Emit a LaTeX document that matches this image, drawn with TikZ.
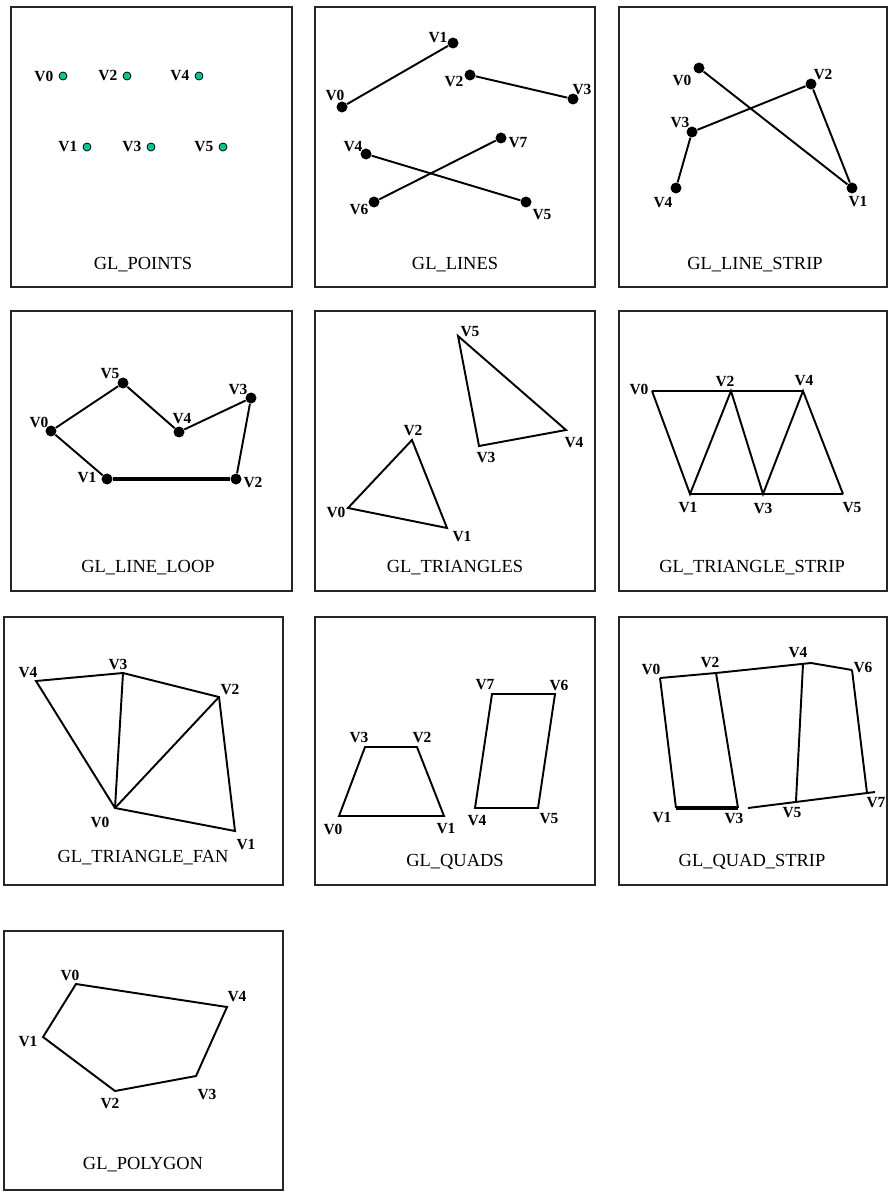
\documentclass[tikz,border=0pt]{standalone}
\usepackage{fontspec}
\setmainfont{Liberation Serif}
\usepackage{xcolor}
\usetikzlibrary{positioning}
\definecolor{ptgreen}{RGB}{0,200,150}

\begin{document}
\begin{tikzpicture}[
  x=0.02cm, y=-0.02cm,
  every node/.style={inner sep=0pt},
  panel/.style={draw=black!85, line width=0.6pt},
  title/.style={font=\fontsize{10.5}{12}\selectfont},
  vlabel/.style={font=\fontsize{8.8}{10}\selectfont\bfseries},
  ptdot/.style={circle, draw=black, line width=0.45pt, fill=ptgreen,
                minimum size=0.16cm},
  dot/.style={circle, fill=black, minimum size=0.22cm},
  edge/.style={line width=1.1pt},
  boldedge/.style={line width=1.8pt},
]
\useasboundingbox (0,0) rectangle (888,1192);

%% ── Panel frames and titles ──────────────────────────────────────────────
\foreach \nm/\xa/\ya/\xb/\yb/\tx/\ty/\txt in {
  fa/11/7/292/287/143/265/{GL\_POINTS},
  fb/315/7/595/287/455/265/{GL\_LINES},
  fc/619/7/887/287/755/265/{GL\_LINE\_STRIP},
  fd/11/311/292/591/148/568/{GL\_LINE\_LOOP},
  fe/315/311/595/591/455/568/{GL\_TRIANGLES},
  ff/619/311/887/591/752/568/{GL\_TRIANGLE\_STRIP},
  fg/4/617/283/885/143/858/{GL\_TRIANGLE\_FAN},
  fh/315/617/595/885/455/862/{GL\_QUADS},
  fi/619/617/887/885/752/862/{GL\_QUAD\_STRIP},
  fj/4/931/283/1190/143/1165/{GL\_POLYGON}} {
  \draw[panel] (\xa,\ya) rectangle (\xb,\yb);
  \node[title] (\nm) at (\tx,\ty) {\txt};
}

%% ── GL_POINTS ────────────────────────────────────────────────────────────
\foreach \n/\x/\y in {0/63/76, 2/127/76, 4/199/76, 1/87/147, 3/151/147, 5/223/147} {
  \node[ptdot] (pa\n) at (\x,\y) {};
  \node[vlabel, left=2.8pt of pa\n] (la\n) {V\n};
}

%% ── GL_LINES ─────────────────────────────────────────────────────────────
\foreach \n/\x/\y in {0/342/107, 1/453/43, 2/470/75, 3/573/99,
                      4/366/154, 5/526/202, 6/374/202, 7/501/138}
  \node[dot] (pb\n) at (\x,\y) {};
\foreach \n/\x/\y in {0/335/95, 1/438/38, 2/454/82, 3/582/90,
                      4/353/147, 5/542/215, 6/359/210, 7/518/143}
  \node[vlabel] (lb\n) at (\x,\y) {V\n};
\draw[edge] (pb0) -- (pb1);
\draw[edge] (pb2) -- (pb3);
\draw[edge] (pb4) -- (pb5);
\draw[edge] (pb6) -- (pb7);

%% ── GL_LINE_STRIP ────────────────────────────────────────────────────────
\foreach \n/\x/\y in {0/699/68, 1/852/188, 2/811/84, 3/692/132, 4/676/188}
  \node[dot] (pc\n) at (\x,\y) {};
\foreach \n/\x/\y in {0/682/80, 1/858/202, 2/823/75, 3/680/123, 4/663/203}
  \node[vlabel] (lc\n) at (\x,\y) {V\n};
\draw[edge] (pc0) -- (pc1) -- (pc2) -- (pc3) -- (pc4);

%% ── GL_LINE_LOOP ─────────────────────────────────────────────────────────
\foreach \n/\x/\y in {0/51/431, 1/107/479, 2/236/479, 3/251/398, 4/179/432, 5/123/383}
  \node[dot] (pd\n) at (\x,\y) {};
\foreach \n/\x/\y in {0/39/422, 1/87/478, 2/253/482, 3/238/389, 4/182/419, 5/110/374}
  \node[vlabel] (ld\n) at (\x,\y) {V\n};
\draw[edge] (pd0) -- (pd1);
\draw[boldedge] (pd1) -- (pd2);
\draw[edge] (pd2) -- (pd3) -- (pd4) -- (pd5) -- (pd0);

%% ── GL_TRIANGLES ─────────────────────────────────────────────────────────
\foreach \n/\x/\y in {0/348/508, 1/447/528, 2/412/440, 3/479/446, 4/566/430, 5/458/336}
  \coordinate (pe\n) at (\x,\y);
\foreach \n/\x/\y in {0/336/512, 1/462/537, 2/413/430, 3/486/457, 4/574/443, 5/470/332}
  \node[vlabel] (le\n) at (\x,\y) {V\n};
\draw[edge] (pe0) -- (pe1) -- (pe2) -- cycle;
\draw[edge] (pe3) -- (pe4) -- (pe5) -- cycle;

%% ── GL_TRIANGLE_STRIP ────────────────────────────────────────────────────
\foreach \n/\x/\y in {0/652/391, 1/690/494, 2/731/391, 3/763/494, 4/803/391, 5/843/494}
  \coordinate (pf\n) at (\x,\y);
\foreach \n/\x/\y in {0/639/389, 1/688/508, 2/725/381, 3/763/508, 4/804/381, 5/852/508}
  \node[vlabel] (lf\n) at (\x,\y) {V\n};
\draw[edge] (pf0) -- (pf2) -- (pf4);
\draw[edge] (pf1) -- (pf3) -- (pf5);
\draw[edge] (pf0) -- (pf1) -- (pf2) -- (pf3) -- (pf4) -- (pf5);

%% ── GL_TRIANGLE_FAN ──────────────────────────────────────────────────────
\foreach \n/\x/\y in {0/115/808, 1/235/831, 2/219/697, 3/123/673, 4/36/681}
  \coordinate (pg\n) at (\x,\y);
\foreach \n/\x/\y in {0/100/822, 1/246/845, 2/230/689, 3/118/664, 4/28/673}
  \node[vlabel] (lg\n) at (\x,\y) {V\n};
\draw[edge] (pg0) -- (pg1) -- (pg2) -- (pg3) -- (pg4) -- cycle;
\draw[edge] (pg0) -- (pg2);
\draw[edge] (pg0) -- (pg3);

%% ── GL_QUADS ─────────────────────────────────────────────────────────────
\foreach \n/\x/\y in {0/339/816, 1/444/816, 2/417/747, 3/365/747,
                      4/475/808, 5/538/808, 6/555/694, 7/492/694}
  \coordinate (ph\n) at (\x,\y);
\foreach \n/\x/\y in {0/333/829, 1/446/829, 2/422/737, 3/359/737,
                      4/477/821, 5/549/819, 6/559/685, 7/485/685}
  \node[vlabel] (lh\n) at (\x,\y) {V\n};
\draw[edge] (ph0) -- (ph1) -- (ph2) -- (ph3) -- cycle;
\draw[edge] (ph4) -- (ph5) -- (ph6) -- (ph7) -- cycle;

%% ── GL_QUAD_STRIP ────────────────────────────────────────────────────────
\foreach \n/\x/\y in {0/660/678, 1/676/808, 2/716/673, 3/738/808,
                      4/803/664, 5/796/801, 6/852/670, 7/867/793}
  \coordinate (pi\n) at (\x,\y);
\coordinate (itop) at (811,663);
\coordinate (ibota) at (748,808);
\coordinate (ibotb) at (875,792);
\foreach \n/\x/\y in {0/651/669, 1/662/818, 2/710/662, 3/734/818,
                      4/798/653, 5/792/813, 6/863/667, 7/876/803}
  \node[vlabel] (li\n) at (\x,\y) {V\n};
\draw[edge] (pi0) -- (pi2) -- (itop) -- (pi6);
\draw[boldedge] (pi1) -- (pi3);
\draw[edge] (ibota) -- (ibotb);
\foreach \a/\b in {0/1, 2/3, 4/5, 6/7}
  \draw[edge] (pi\a) -- (pi\b);

%% ── GL_POLYGON ───────────────────────────────────────────────────────────
\foreach \n/\x/\y in {0/76/984, 1/43/1037, 2/115/1091, 3/196/1076, 4/227/1007}
  \coordinate (pj\n) at (\x,\y);
\foreach \n/\x/\y in {0/70/975, 1/28/1042, 2/110/1103, 3/207/1094, 4/237/997}
  \node[vlabel] (lj\n) at (\x,\y) {V\n};
\draw[edge] (pj0) -- (pj1) -- (pj2) -- (pj3) -- (pj4) -- cycle;

\end{tikzpicture}
\end{document}
